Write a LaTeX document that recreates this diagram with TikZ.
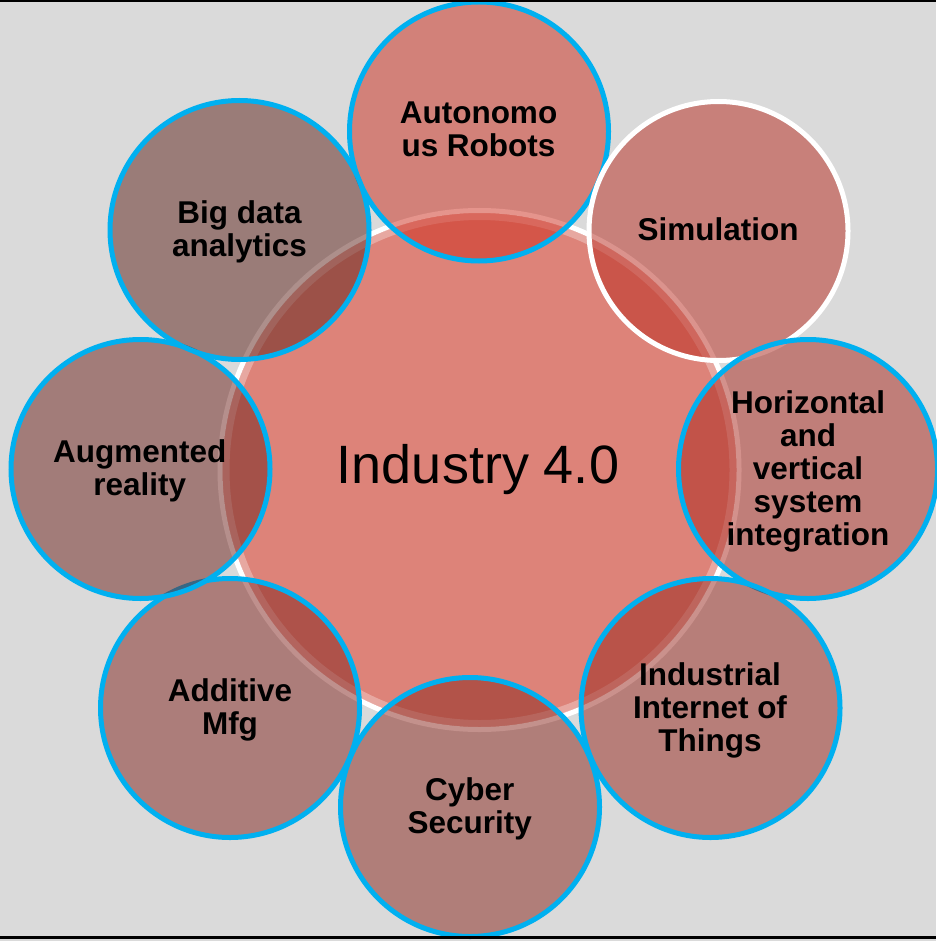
\documentclass[tikz,border=0pt]{standalone}
\usepackage{fontspec}
\setmainfont{Liberation Sans}
\definecolor{bg}{RGB}{218,218,218}
\definecolor{core}{RGB}{221,131,121}
\definecolor{cblue}{RGB}{0,176,240}
\definecolor{cA}{RGB}{204,42,26}
\definecolor{cB}{RGB}{184,40,28}
\definecolor{cC}{RGB}{168,36,26}
\definecolor{cD}{RGB}{150,36,26}
\definecolor{cE}{RGB}{136,36,26}
\definecolor{cF}{RGB}{128,34,28}
\definecolor{cG}{RGB}{108,32,26}
\definecolor{cH}{RGB}{92,32,24}
\tikzset{
  sat/.style={circle, minimum size=259pt, inner sep=0pt, line width=5pt, draw=cblue, fill opacity=0.5, draw opacity=1},
  lbl/.style={font=\bfseries\fontsize{31.5}{33}\selectfont, align=center, text=black, inner sep=0pt},
  hub/.style={circle, minimum size=519pt, inner sep=0pt, fill=core, draw=white, line width=5pt},
}
\begin{document}
\begin{tikzpicture}[x=1pt,y=-1pt]
  \fill[bg] (0,0) rectangle (936,941);
  \useasboundingbox (0,0) rectangle (936,941);
  % central circle
  \node[hub] (hub) at (479.5,470) {};
  \draw[white, opacity=0.3, line width=7pt] (hub.center) circle[radius=253.5pt];
  % satellites
  \node[sat, fill=cA] (ar) at (479,131.5) {};
  \node[sat, fill=cB, draw=white] (sim) at (718.5,231) {};
  \node[sat, fill=cC] (hv) at (808,469) {};
  \node[sat, fill=cD] (iot) at (710.5,708) {};
  \node[sat, fill=cE] (cs) at (470,807) {};
  \node[sat, fill=cF] (am) at (230,708) {};
  \node[sat, fill=cG] (aug) at (140.5,469) {};
  \node[sat, fill=cH] (bd) at (239.5,230) {};
  % labels
  \node[lbl] (ar-t) at (478.5,129) {Autonomo\\us Robots};
  \node[lbl] (sim-t) at (718,229.5) {Simulation};
  \node[lbl] (hv-t) at (808,471) {Horizontal\\and\\vertical\\system\\integration};
  \node[lbl] (iot-t) at (710,710) {Industrial\\Internet of\\Things};
  \node[lbl] (cs-t) at (469.7,809) {Cyber\\Security};
  \node[lbl] (am-t) at (230,710) {Additive\\Mfg};
  \node[lbl] (aug-t) at (139.7,471) {Augmented\\reality};
  \node[lbl] (bd-t) at (239.5,232) {Big data\\analytics};
  \node[font=\fontsize{54}{60}\selectfont, inner sep=0pt] (hub-t) at (478,470) {Industry 4.0};
  % frame lines
  \fill[black] (0,0) rectangle (936,2.5);
  \fill[black] (0,935.5) rectangle (936,938.5);
\end{tikzpicture}
\end{document}
